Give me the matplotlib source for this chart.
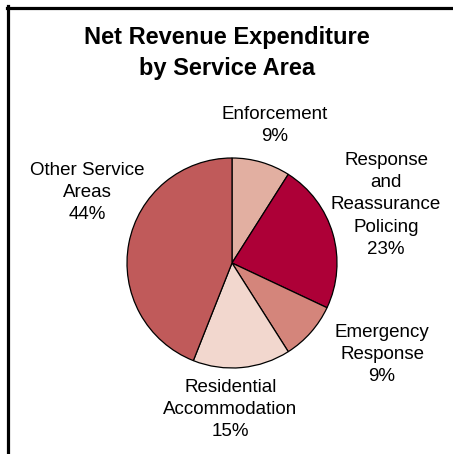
import matplotlib.pyplot as plt
from matplotlib.lines import Line2D

plt.rcParams['font.family'] = ['Liberation Sans', 'DejaVu Sans']

# service areas, clockwise from 12 o'clock
areas = ['Enforcement', 'Response\nand\nReassurance\nPolicing', 'Emergency\nResponse',
         'Residential\nAccommodation', 'Other Service\nAreas']
shares = [9, 23, 9, 15, 44]
colours = ['#E2AFA1', '#AD0037', '#D4857B', '#F2D7CE', '#C05A5A']

# label anchor (pixel x, pixel y of top line) for each area
label_pos = [(274.5, 106), (386, 152), (382, 324), (230.5, 379), (87.5, 162)]

W, H = 453, 454
fig = plt.figure(figsize=(W / 100, H / 100), dpi=100)
fig.patch.set_facecolor('white')

# pie: centre (232, 263) px, radius 105 px
r = 105
ax = fig.add_axes([(232 - r) / W, (H - 263 - r) / H, 2 * r / W, 2 * r / H])
ax.pie(shares, colors=colours, startangle=90, counterclock=False,
       wedgeprops=dict(edgecolor='black', linewidth=0.9))
ax.set_xlim(-1, 1)
ax.set_ylim(-1, 1)
ax.set_aspect('auto')

for name, val, (px, py) in zip(areas, shares, label_pos):
    fig.text(px / W, 1 - py / H, f'{name}\n{val}%', ha='center', va='top',
             fontsize=13.5, linespacing=1.4)

fig.text(227 / W, 1 - 26 / H, 'Net Revenue Expenditure\nby Service Area', ha='center', va='top',
         fontsize=17, fontweight='bold', linespacing=1.42)

# frame edges (top and left)
fig.add_artist(Line2D([7 / W, 1], [1 - 7.5 / H, 1 - 7.5 / H], color='black', linewidth=2.3,
                      transform=fig.transFigure))
fig.add_artist(Line2D([7.5 / W, 7.5 / W], [0, 1 - 6 / H], color='black', linewidth=2.3,
                      transform=fig.transFigure))

fig.savefig('out.png', dpi=100)
